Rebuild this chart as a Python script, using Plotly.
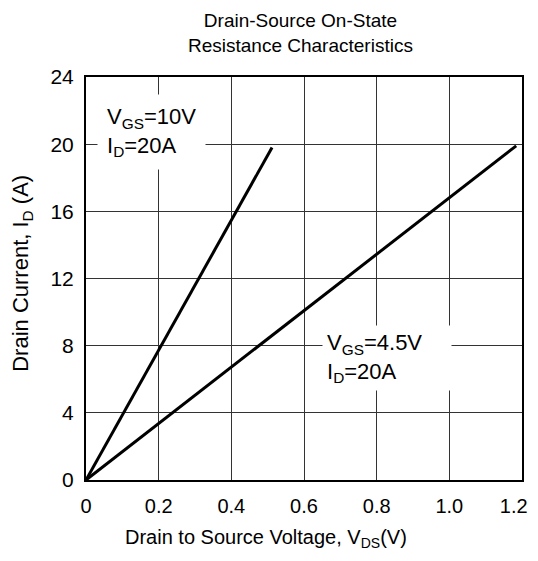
import plotly.graph_objects as go

vds_10v = [0.0, 0.512]
id_10v = [0.0, 19.8]
vds_45v = [0.0, 1.184]
id_45v = [0.0, 19.9]
x_ticks = [0, 0.2, 0.4, 0.6, 0.8, 1.0, 1.2]
x_ticklabels = ["0", "0.2", "0.4", "0.6", "0.8", "1.0", "1.2\u00a0\u00a0\u00a0"]
y_ticks = [0, 4, 8, 12, 16, 20, 24]

font = "Liberation Sans, Arial, sans-serif"

fig = go.Figure()
fig.add_trace(go.Scatter(x=vds_10v, y=id_10v, mode="lines",
                         line=dict(color="black", width=3), showlegend=False))
fig.add_trace(go.Scatter(x=vds_45v, y=id_45v, mode="lines",
                         line=dict(color="black", width=3), showlegend=False))

fig.add_annotation(x=0.030, y=23.0, xref="x", yref="y", xanchor="left", yanchor="top",
                   text="V<sub>GS</sub>=10V<br>I<sub>D</sub>=20A", showarrow=False,
                   align="left", bgcolor="white", borderpad=9,
                   font=dict(family=font, size=22, color="black"))
fig.add_annotation(x=0.6495, y=9.23, xref="x", yref="y", xanchor="left", yanchor="top",
                   text="V<sub>GS</sub>=4.5V<br>I<sub>D</sub>=20A", showarrow=False,
                   align="left", bgcolor="white", borderpad=4, width=120,
                   font=dict(family=font, size=22, color="black"))

# chart title
fig.add_annotation(x=0.493, y=1.109, xref="paper", yref="paper", xanchor="center", yanchor="middle",
                   text="Drain-Source On-State<br>Resistance Characteristics", showarrow=False,
                   align="center", font=dict(family=font, size=19, color="black"))
# axis titles
fig.add_annotation(x=0.413, y=-0.181, xref="paper", yref="paper", xanchor="center", yanchor="bottom",
                   text="Drain to Source Voltage, V<sub>DS</sub>(V)", showarrow=False,
                   font=dict(family=font, size=20, color="black"))
fig.add_annotation(x=-0.147, y=0.514, xref="paper", yref="paper", xanchor="center", yanchor="middle",
                   text="Drain Current, I<sub>D</sub> (A)", showarrow=False, textangle=-90,
                   font=dict(family=font, size=22, color="black"))

fig.update_layout(
    width=530, height=545,
    margin=dict(l=78, r=16, t=69, b=73, autoexpand=False),
    paper_bgcolor="white", plot_bgcolor="white",
    font=dict(family=font, size=20, color="black"),
)
fig.update_xaxes(range=[0, 1.2], tickvals=x_ticks, ticktext=x_ticklabels,
                 showgrid=True, gridcolor="#333333", gridwidth=1,
                 showline=True, linecolor="black", linewidth=2, mirror=True,
                 zeroline=False, ticks="", ticklen=0, ticklabelstandoff=7,
                 automargin=False, ticklabeloverflow="allow",
                 tickfont=dict(family=font, size=20))
fig.update_yaxes(range=[0, 24], tickvals=y_ticks,
                 showgrid=True, gridcolor="#333333", gridwidth=1,
                 showline=True, linecolor="black", linewidth=2, mirror=True,
                 zeroline=False, ticks="", ticklen=0, ticklabelstandoff=6,
                 automargin=False,
                 tickfont=dict(family=font, size=21))

fig.write_html("out.html")
